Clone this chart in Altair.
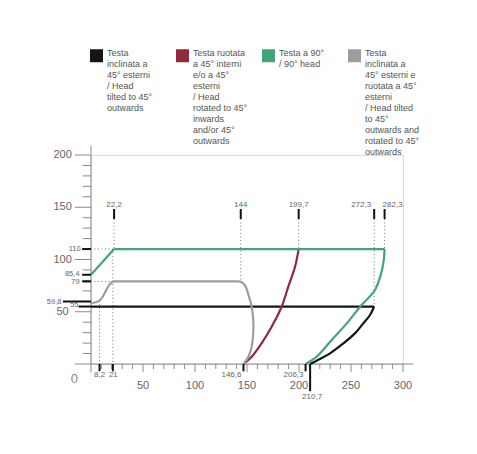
import altair as alt
import pandas as pd

FONT = "Liberation Sans"

SERIES = [
    "Testa\ninclinata a\n45° esterni\n/ Head\ntilted to 45°\noutwards",
    "Testa ruotata\na 45° interni\ne/o a 45°\nesterni\n/ Head\nrotated to 45°\ninwards\nand/or 45°\noutwards",
    "Testa a 90°\n/ 90° head",
    "Testa\ninclinata a\n45° esterni e\nruotata a 45°\nesterni\n/ Head tilted\nto 45°\noutwards and\nrotated to 45°\noutwards",
]
COLORS = ["#151515", "#8e2a3e", "#3fa57d", "#9d9d9d"]

# ---- curve data ----
black_flat_x = [0, 272.3]
black_flat_y = [55, 55]
black_curve_x = [272.3, 268.3, 261.8, 253.8, 242.6, 229.8, 217.0, 210.7]
black_curve_y = [55, 46.9, 38.9, 29.3, 19.7, 10.2, 3.2, 0]

maroon_x = [199.7, 196.2, 189.7, 183.3, 173.7, 164.0, 154.5, 146.6]
maroon_y = [110, 93, 74, 54.8, 35.7, 19.8, 7, 0]

green_ramp_x = [0, 22.2]
green_ramp_y = [85.4, 110]
green_flat_x = [22.2, 282.3]
green_flat_y = [110, 110]
green_curve_x = [282.3, 281.5, 279.0, 273.0, 258.7, 245.9, 231.4, 217.0, 206.3]
green_curve_y = [110, 99.5, 86.8, 70.8, 54.8, 38.9, 23, 7, 0]

gray_left_x = [0, 4.5, 8.2, 11, 14, 17.5, 21]
gray_left_y = [58.3, 59.1, 60.6, 64, 69.5, 75.5, 79]
gray_flat_x = [21, 141]
gray_flat_y = [79, 79]
gray_curve_x = [141, 144.9, 148.7, 151.9, 154.5, 156.0, 156.0, 154.5, 151.3, 146.6]
gray_curve_y = [79, 78.3, 74, 64.4, 54.8, 42, 29.4, 16.6, 7, 0]

segments = [
    (0, black_flat_x, black_flat_y),
    (0, black_curve_x, black_curve_y),
    (1, maroon_x, maroon_y),
    (2, green_ramp_x, green_ramp_y),
    (2, green_flat_x, green_flat_y),
    (2, green_curve_x, green_curve_y),
    (3, gray_left_x, gray_left_y),
    (3, gray_flat_x, gray_flat_y),
    (3, gray_curve_x, gray_curve_y),
]
rows = []
for k, (s, xs, ys) in enumerate(segments):
    for i, (a, b) in enumerate(zip(xs, ys)):
        rows.append({"series": SERIES[s], "seg": k, "o": i, "x": a, "y": b})
curves = pd.DataFrame(rows)

# ---- axis ticks and labels ----
Y_MAJOR = [50, 100, 150, 200]
Y_MAJOR_LABELS = ["50", "100", "150", "200"]
Y_MAJOR_LABEL_X = [-21.5, -18.5, -18.5, -18.5]
Y_MINOR = [10, 20, 30, 40, 60, 70, 80, 90, 110, 120, 130, 140, 160, 170, 180, 190]
X_MAJOR = [50, 100, 150, 200, 250, 300]
X_MAJOR_LABELS = ["50", "100", "150", "200", "250", "300"]
X_MINOR = [10, 20, 30, 40, 60, 70, 80, 90, 110, 120, 130, 140, 160, 170, 180, 190,
           210, 220, 230, 240, 260, 270, 280, 290]

# special values on the left axis
Y_SPECIAL = [110, 85.4, 79, 59.8, 55]
Y_SPECIAL_LABELS = ["110", "85,4", "79", "59,8", "55"]
Y_SPECIAL_TICK_FROM = [-8.5, -8.5, -8.5, -27, -12]
Y_SPECIAL_LABEL_X = [-10, -11, -11, -28.5, -20]
Y_SPECIAL_LABEL_Y = [110, 86, 78.3, 59.8, 56.5]
Y_SPECIAL_ALIGN = ["right", "right", "right", "right", "left"]

# special values on the bottom axis
X_SPECIAL = [8.2, 21, 146.6, 206.3]
X_SPECIAL_LABELS = ["8,2", "21", "146,6", "206,3"]
X_SPECIAL_LABEL_X = [8.2, 21.5, 146.6, 206.3]
X_SPECIAL_ALIGN = ["center", "center", "right", "right"]
X_LOW = [210.7]
X_LOW_LABELS = ["210,7"]

# special values on top
X_TOP = [22.2, 144, 199.7, 272.3, 282.3]
X_TOP_LABELS = ["22,2", "144", "199,7", "272,3", "282,3"]
X_TOP_END = [110, 79, 110, 55, 110]
X_TOP_ALIGN = ["center", "center", "center", "right", "left"]

# dotted guides
dot_x = [21, 8.2]
dot_y_from = [110, 60.6]
hdot_y = [110, 79]
hdot_x_to = [22.2, 21]

XS = alt.Scale(domain=[0, 300], nice=False, zero=False)
YS = alt.Scale(domain=[0, 200], nice=False, zero=False)


def X(f):
    return alt.X(f + ":Q", scale=XS, axis=None)


def Y(f):
    return alt.Y(f + ":Q", scale=YS, axis=None)


AX = "#8a8a8a"
TXT = "#666666"
DOT = "#777777"

# axis lines
axis_df = pd.DataFrame({"x": [-15.5, 0], "x2": [310, 0], "y": [0, -8], "y2": [0, 209]})
axis_lines = alt.Chart(axis_df).mark_rule(color=AX, strokeWidth=1).encode(
    x=X("x"), x2="x2:Q", y=Y("y"), y2="y2:Q")

ymaj = pd.DataFrame({"y": Y_MAJOR, "lab": Y_MAJOR_LABELS, "x": [-15.5] * 4, "x2": [0] * 4,
                     "lx": Y_MAJOR_LABEL_X})
ymaj_ticks = alt.Chart(ymaj).mark_rule(color=AX, strokeWidth=1).encode(
    x=X("x"), x2="x2:Q", y=Y("y"))
ymaj_text = alt.Chart(ymaj).mark_text(align="right", baseline="middle", font=FONT,
                                      fontSize=11, color=TXT).encode(
    x=X("lx"), y=Y("y"), text="lab:N")

ymin = pd.DataFrame({"y": Y_MINOR, "x": [-8] * len(Y_MINOR), "x2": [0] * len(Y_MINOR)})
ymin_ticks = alt.Chart(ymin).mark_rule(color=AX, strokeWidth=1).encode(
    x=X("x"), x2="x2:Q", y=Y("y"))

xmaj = pd.DataFrame({"x": X_MAJOR, "lab": X_MAJOR_LABELS, "y": [0] * 6, "y2": [-7.7] * 6,
                     "ly": [-21.5] * 6})
xmaj_ticks = alt.Chart(xmaj).mark_rule(color=AX, strokeWidth=1).encode(
    x=X("x"), y=Y("y"), y2="y2:Q")
xmaj_text = alt.Chart(xmaj).mark_text(align="center", baseline="middle", font=FONT,
                                      fontSize=11, color=TXT).encode(
    x=X("x"), y=Y("ly"), text="lab:N")

xmin = pd.DataFrame({"x": X_MINOR, "y": [0] * len(X_MINOR), "y2": [-4.8] * len(X_MINOR)})
xmin_ticks = alt.Chart(xmin).mark_rule(color=AX, strokeWidth=1).encode(
    x=X("x"), y=Y("y"), y2="y2:Q")

zero_df = pd.DataFrame({"x": [-16], "y": [-14], "lab": ["0"]})
zero_text = alt.Chart(zero_df).mark_text(align="center", baseline="middle", font=FONT,
                                         fontSize=13, color="#888888").encode(
    x=X("x"), y=Y("y"), text="lab:N")

# special left ticks
ysp = pd.DataFrame({"y": Y_SPECIAL, "lab": Y_SPECIAL_LABELS, "x": Y_SPECIAL_TICK_FROM,
                    "x2": [0] * 5, "lx": Y_SPECIAL_LABEL_X, "ly": Y_SPECIAL_LABEL_Y,
                    "al": Y_SPECIAL_ALIGN})
ysp_ticks = alt.Chart(ysp).mark_rule(color="#111111", strokeWidth=2).encode(
    x=X("x"), x2="x2:Q", y=Y("y"))
ysp_text_r = alt.Chart(ysp[ysp.al == "right"]).mark_text(
    align="right", baseline="middle", font=FONT, fontSize=7.5, color=TXT).encode(
    x=X("lx"), y=Y("ly"), text="lab:N")
ysp_text_l = alt.Chart(ysp[ysp.al == "left"]).mark_text(
    align="left", baseline="middle", font=FONT, fontSize=7.5, color=TXT).encode(
    x=X("lx"), y=Y("ly"), text="lab:N")

# special bottom ticks
xsp = pd.DataFrame({"x": X_SPECIAL, "lab": X_SPECIAL_LABELS, "lx": X_SPECIAL_LABEL_X,
                    "al": X_SPECIAL_ALIGN, "y": [0] * 4, "y2": [-7] * 4, "ly": [-10.5] * 4})
xsp_ticks = alt.Chart(xsp).mark_rule(color="#111111", strokeWidth=2).encode(
    x=X("x"), y=Y("y"), y2="y2:Q")
xsp_text_c = alt.Chart(xsp[xsp.al == "center"]).mark_text(
    align="center", baseline="middle", font=FONT, fontSize=8, color=TXT).encode(
    x=X("lx"), y=Y("ly"), text="lab:N")
xsp_text_r = alt.Chart(xsp[xsp.al == "right"]).mark_text(
    align="right", baseline="middle", font=FONT, fontSize=8, color=TXT, dx=-2).encode(
    x=X("lx"), y=Y("ly"), text="lab:N")

xlow = pd.DataFrame({"x": X_LOW, "lab": X_LOW_LABELS, "y": [0], "y2": [-26], "ly": [-32]})
xlow_tick = alt.Chart(xlow).mark_rule(color="#111111", strokeWidth=2).encode(
    x=X("x"), y=Y("y"), y2="y2:Q")
xlow_text = alt.Chart(xlow).mark_text(align="center", baseline="middle", font=FONT,
                                      fontSize=8, color=TXT, dx=2).encode(
    x=X("x"), y=Y("ly"), text="lab:N")

# top ticks and dotted guides
top = pd.DataFrame({"x": X_TOP, "lab": X_TOP_LABELS, "end": X_TOP_END, "al": X_TOP_ALIGN,
                    "t1": [148.3] * 5, "t2": [138.8] * 5, "ly": [152.5] * 5})
top_ticks = alt.Chart(top).mark_rule(color="#111111", strokeWidth=2).encode(
    x=X("x"), y=Y("t1"), y2="t2:Q")
top_text_c = alt.Chart(top[top.al == "center"]).mark_text(
    align="center", baseline="middle", font=FONT, fontSize=8, color=TXT).encode(
    x=X("x"), y=Y("ly"), text="lab:N")
top_text_r = alt.Chart(top[top.al == "right"]).mark_text(
    align="right", baseline="middle", font=FONT, fontSize=8, color=TXT, dx=-3).encode(
    x=X("x"), y=Y("ly"), text="lab:N")
top_text_l = alt.Chart(top[top.al == "left"]).mark_text(
    align="left", baseline="middle", font=FONT, fontSize=8, color=TXT, dx=-2).encode(
    x=X("x"), y=Y("ly"), text="lab:N")
top_dots = alt.Chart(top).mark_rule(color=DOT, strokeWidth=1, strokeDash=[1, 2.5]).encode(
    x=X("x"), y=Y("t2"), y2="end:Q")

vd = pd.DataFrame({"x": dot_x, "y": dot_y_from, "y2": [0, 0]})
v_dots = alt.Chart(vd).mark_rule(color=DOT, strokeWidth=1, strokeDash=[1, 2.5]).encode(
    x=X("x"), y=Y("y"), y2="y2:Q")
hd = pd.DataFrame({"y": hdot_y, "x": [0, 0], "x2": hdot_x_to})
h_dots = alt.Chart(hd).mark_rule(color=DOT, strokeWidth=1, strokeDash=[1, 2.5]).encode(
    x=X("x"), x2="x2:Q", y=Y("y"))

# legend labels are padded to the same number of lines so entries align at the top
LABEL_EXPR = ("slice(split(datum.label + '\\n \\n \\n \\n \\n \\n \\n \\n \\n ', '\\n'), 0, 10)")

lines = alt.Chart(curves).mark_line(strokeWidth=2.2, interpolate="catmull-rom").encode(
    x=X("x"), y=Y("y"), detail="seg:N", order="o:Q",
    color=alt.Color("series:N", scale=alt.Scale(domain=SERIES, range=COLORS),
                    legend=alt.Legend(
                        title=None, orient="none", legendX=-1, legendY=-106,
                        direction="horizontal", columns=4, gridAlign="all",
                        columnPadding=-4, padding=0,
                        symbolType="square", symbolSize=1, symbolStrokeWidth=12,
                        labelExpr=LABEL_EXPR,
                        labelBaseline="alphabetic", labelOffset=4,
                        labelFont=FONT, labelFontSize=9, labelColor="#555555",
                        labelLimit=200)))

chart = alt.layer(
    h_dots, v_dots, top_dots,
    axis_lines, ymin_ticks, ymaj_ticks, xmin_ticks, xmaj_ticks,
    ymaj_text, xmaj_text, zero_text,
    lines,
    ysp_ticks, ysp_text_r, ysp_text_l, xsp_ticks, xsp_text_c, xsp_text_r,
    xlow_tick, xlow_text,
    top_ticks, top_text_c, top_text_r, top_text_l,
).properties(
    width=312, height=209,
    padding={"left": 83, "top": 147, "right": 40, "bottom": 50},
    autosize=alt.AutoSizeParams(type="none"),
).configure_view(stroke=None).configure(background="white")

chart.save("out.html", embed_options={"renderer": "svg", "actions": False})
